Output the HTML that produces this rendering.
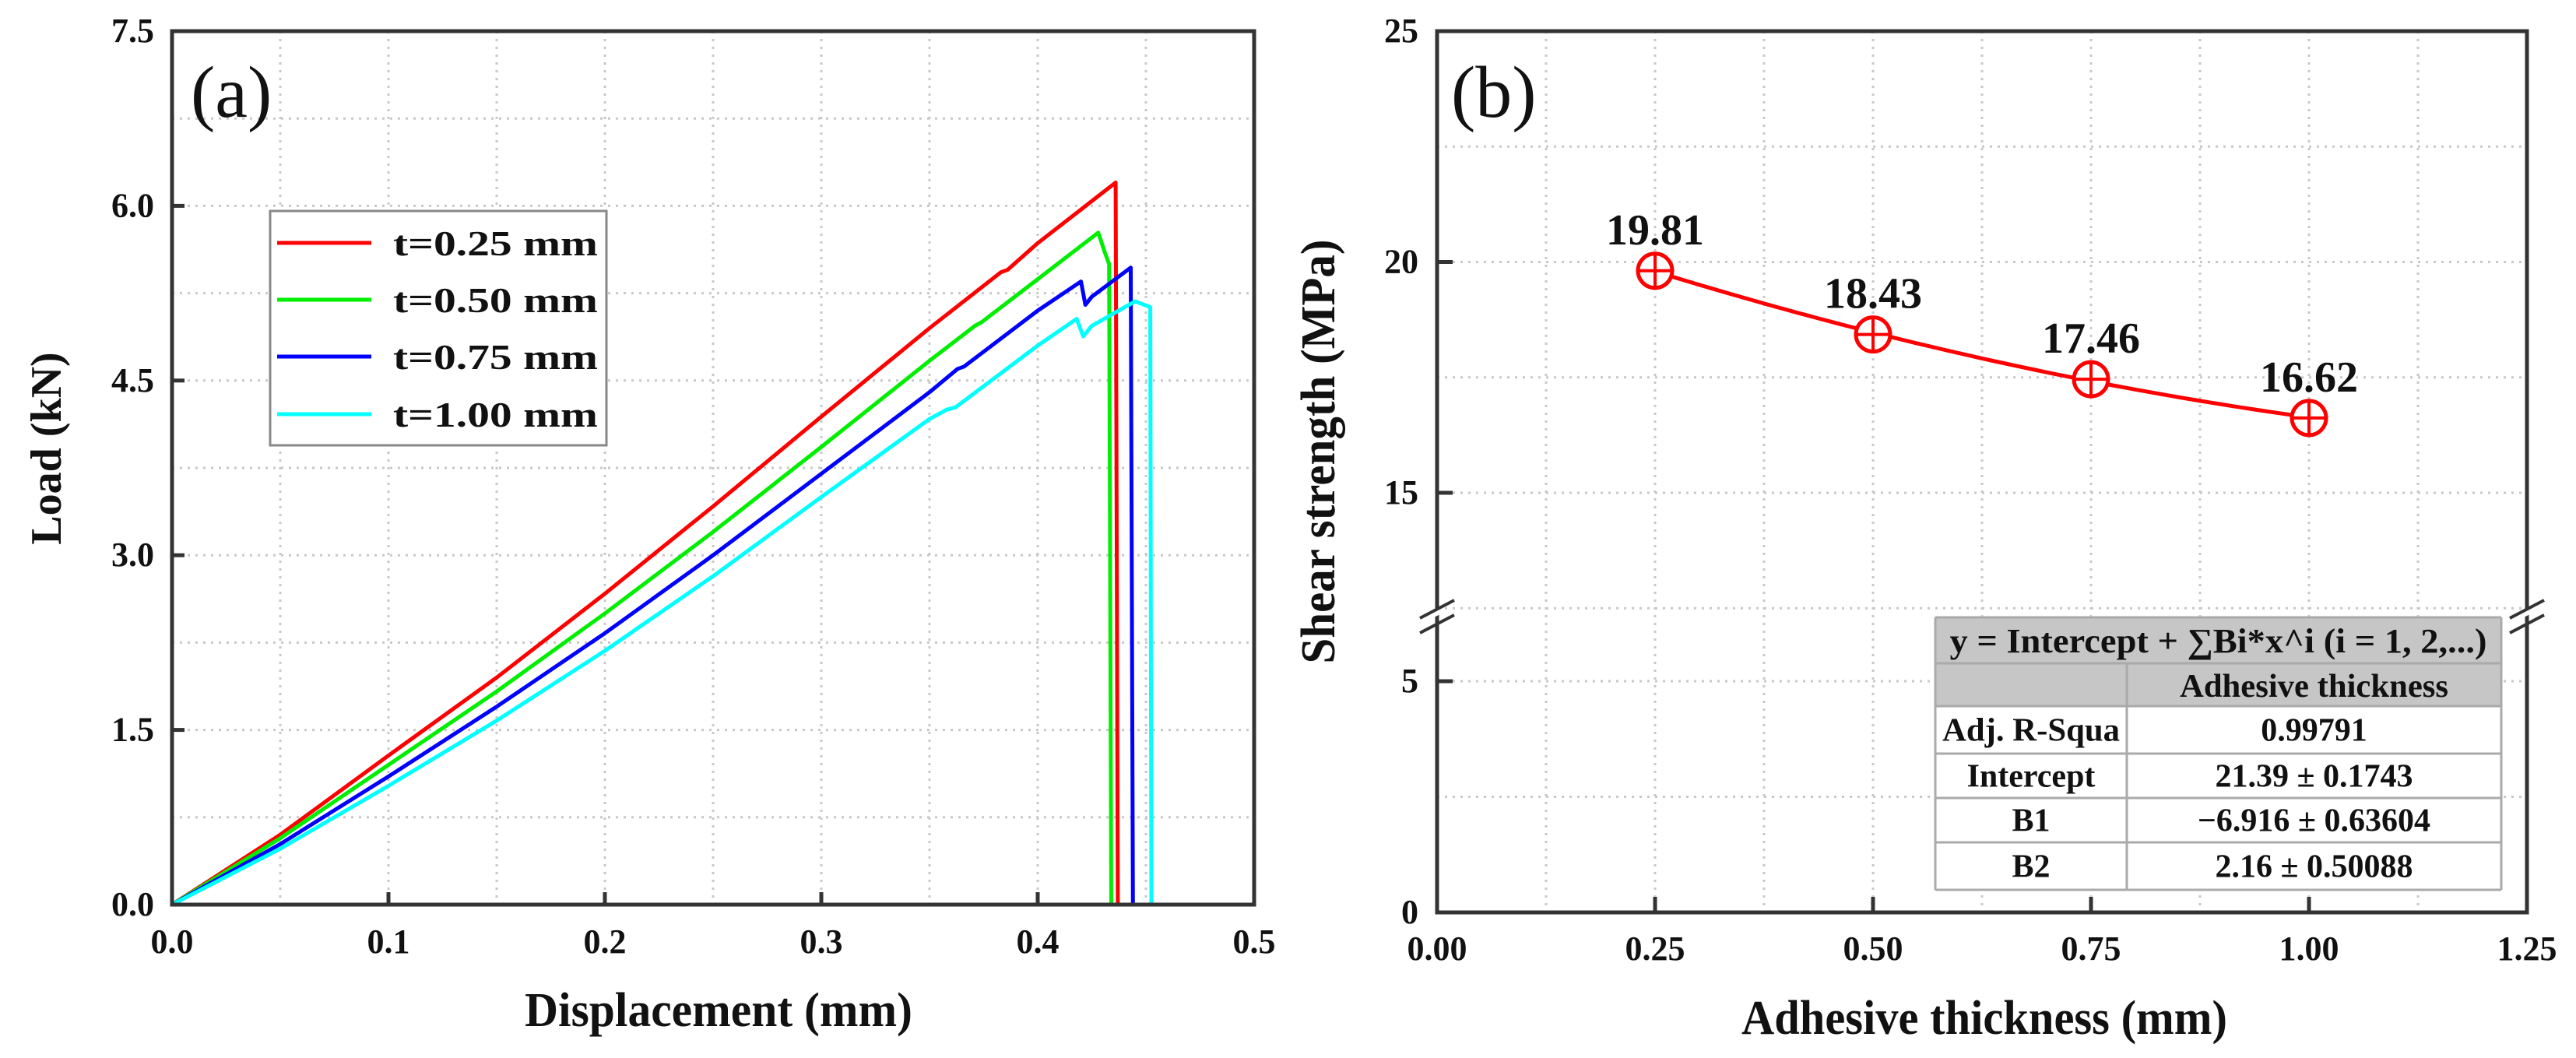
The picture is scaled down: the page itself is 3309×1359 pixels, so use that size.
<!DOCTYPE html>
<html><head><meta charset="utf-8"><style>
html,body{margin:0;padding:0;background:#fff;}
svg{display:block;}
text{font-family:"Liberation Serif",serif;}
</style></head><body>
<svg id="fig" width="3309" height="1359" viewBox="0 0 3309 1359" xmlns="http://www.w3.org/2000/svg">
<g id="pa"></g>
<g id="pb"></g>
</svg>
<script>
// ---------- Panel (a) data ----------
const aXTicks = [0.0, 0.1, 0.2, 0.3, 0.4, 0.5];
const aXTickLabels = ["0.0","0.1","0.2","0.3","0.4","0.5"];
const aYTicks = [0.0, 1.5, 3.0, 4.5, 6.0, 7.5];
const aYTickLabels = ["0.0","1.5","3.0","4.5","6.0","7.5"];
const seriesNames = ["t=0.25 mm","t=0.50 mm","t=0.75 mm","t=1.00 mm"];
const seriesColors = ["#ff0000","#00ee00","#0000ff","#00ffff"];
const redX = [0,0.05,0.1,0.15,0.2,0.25,0.3,0.35,0.383,0.386,0.40,0.436,0.437];
const redY = [0,0.6,1.28,1.95,2.67,3.42,4.19,4.95,5.43,5.45,5.68,6.20,0];
const greenX = [0,0.05,0.1,0.15,0.2,0.25,0.3,0.35,0.371,0.374,0.4,0.428,0.431,0.433,0.434];
const greenY = [0,0.57,1.2,1.83,2.5,3.2,3.93,4.67,4.97,5.0,5.37,5.77,5.6,5.5,0];
const blueX = [0,0.05,0.1,0.15,0.2,0.25,0.3,0.35,0.363,0.366,0.4,0.420,0.422,0.425,0.443,0.444];
const blueY = [0,0.52,1.1,1.7,2.33,3.0,3.7,4.4,4.6,4.62,5.1,5.35,5.15,5.22,5.47,0];
const cyanX = [0,0.05,0.1,0.15,0.2,0.25,0.3,0.35,0.358,0.362,0.4,0.418,0.421,0.425,0.445,0.452,0.4525];
const cyanY = [0,0.48,1.02,1.58,2.18,2.82,3.5,4.17,4.25,4.27,4.8,5.03,4.88,4.97,5.18,5.13,0];

// ---------- Panel (b) data ----------
const bXTicks = [0.0, 0.25, 0.5, 0.75, 1.0, 1.25];
const bXTickLabels = ["0.00","0.25","0.50","0.75","1.00","1.25"];
const bYTicks = [0, 5, 15, 20, 25];
const bYTickLabels = ["0","5","15","20","25"];
const thickness = [0.25, 0.5, 0.75, 1.0];
const strength = [19.81, 18.43, 17.46, 16.62];
const strengthLabels = ["19.81","18.43","17.46","16.62"];
const fitCoef = [21.39, -6.916, 2.16];
const tableRows = [["Adj. R-Squa","0.99791"],["Intercept","21.39 ± 0.1743"],["B1","\u22126.916 ± 0.63604"],["B2","2.16 ± 0.50088"]];

const NS = "http://www.w3.org/2000/svg";
function mk(parent, tag, attrs, txt){
  const e = document.createElementNS(NS, tag);
  for (const k in attrs) e.setAttribute(k, attrs[k]);
  if (txt !== undefined) e.textContent = txt;
  parent.appendChild(e); return e;
}

// ===== Panel A =====
const pa = document.getElementById('pa');
const aL=221,aR=1611,aT=40,aB=1162;
const ax = v => aL + (v-0)/(0.5)*(aR-aL);
const ay = v => aB - v/7.5*(aB-aT);
for (let v=0.05; v<0.5; v+=0.05){
  const l = mk(pa,'line',{x1:ax(v),x2:ax(v),y1:aT,y2:aB,stroke:'#c8c8c8','stroke-width':3,'stroke-dasharray':'3 7'});
  
  
}
for (let v=0.75; v<7.5; v+=0.75){
  const l = mk(pa,'line',{x1:aL,x2:aR,y1:ay(v),y2:ay(v),stroke:'#c8c8c8','stroke-width':3,'stroke-dasharray':'3 7'});
  
  
}
const aSeries = [[redX,redY],[greenX,greenY],[blueX,blueY],[cyanX,cyanY]];
aSeries.forEach((s,i)=>{
  const pts = s[0].map((x,j)=>ax(x).toFixed(1)+','+ay(s[1][j]).toFixed(1)).join(' ');
  const p = mk(pa,'polyline',{points:pts,fill:'none',stroke:seriesColors[i],'stroke-width':5,'stroke-linejoin':'round'});
  
  
});
const fa = mk(pa,'rect',{x:aL,y:aT,width:aR-aL,height:aB-aT,fill:'none',stroke:'#333','stroke-width':5});


aXTicks.forEach((v,i)=>{
  mk(pa,'line',{x1:ax(v),x2:ax(v),y1:aB,y2:aB-16,stroke:'#333','stroke-width':5});
  const t = mk(pa,'text',{x:ax(v),y:1224,'font-size':44,'font-weight':'bold','text-anchor':'middle',fill:'#111'},aXTickLabels[i]);
  
  
});
aYTicks.forEach((v,i)=>{
  mk(pa,'line',{x1:aL,x2:aL+16,y1:ay(v),y2:ay(v),stroke:'#333','stroke-width':5});
  const t = mk(pa,'text',{x:198,y:ay(v)+14,'font-size':44,'font-weight':'bold','text-anchor':'end',fill:'#111'},aYTickLabels[i]);
  
  
});
let t = mk(pa,'text',{x:923,y:1318,'font-size':62,'font-weight':'bold','text-anchor':'middle',fill:'#111',textLength:498,lengthAdjust:'spacingAndGlyphs'},'Displacement (mm)');


t = mk(pa,'text',{x:0,y:0,'font-size':56,'font-weight':'bold','text-anchor':'middle',fill:'#111',transform:'translate(78,576) rotate(-90)'},'Load (kN)');


t = mk(pa,'text',{x:245,y:150,'font-size':94,fill:'#111'},'(a)');


const lg = mk(pa,'g',{});


mk(lg,'rect',{x:347,y:271,width:432,height:301,fill:'#fff',stroke:'#888','stroke-width':3});
const legYs=[312,385,458,532];
seriesNames.forEach((n,i)=>{
  const g = mk(lg,'g',{});
  
  
  mk(g,'line',{x1:356,x2:477,y1:legYs[i],y2:legYs[i],stroke:seriesColors[i],'stroke-width':5});
  mk(g,'text',{x:505,y:legYs[i]+16,'font-size':46,'font-weight':'bold',fill:'#111',textLength:263,lengthAdjust:'spacingAndGlyphs'},n);
});

// ===== Panel B =====
const pb = document.getElementById('pb');
const bL=1846,bR=3246,bT=40,bB=1172,brk=791;
const bx = v => bL + v/1.25*(bR-bL);
const by = v => v >= 12.33 ? (633 - (v-15)*59.3) : (bB - v*59.4);
for (let v=0.125; v<1.25; v+=0.125){
  const l = mk(pb,'line',{x1:bx(v),x2:bx(v),y1:bT,y2:bB,stroke:'#c8c8c8','stroke-width':3,'stroke-dasharray':'3 7'});
  
  
}
[2.5,5,12.5,15,17.5,20,22.5].forEach(v=>{
  const l = mk(pb,'line',{x1:bL,x2:bR,y1:by(v),y2:by(v),stroke:'#c8c8c8','stroke-width':3,'stroke-dasharray':'3 7'});
  
  
});
let fpts=[];
for (let i=0;i<=60;i++){
  const x = thickness[0] + (thickness[thickness.length-1]-thickness[0])*i/60;
  const y = fitCoef[0]+fitCoef[1]*x+fitCoef[2]*x*x;
  fpts.push(bx(x).toFixed(1)+','+by(y).toFixed(1));
}
const fc = mk(pb,'polyline',{points:fpts.join(' '),fill:'none',stroke:'#ff0000','stroke-width':5});


thickness.forEach((x,i)=>{
  const cx=bx(x), cy=by(strength[i]);
  const g = mk(pb,'g',{});
  
  
  mk(g,'circle',{cx:cx,cy:cy,r:22,fill:'#fff',stroke:'#ff0000','stroke-width':5});
  mk(g,'line',{x1:cx-22,x2:cx+22,y1:cy,y2:cy,stroke:'#ff0000','stroke-width':4});
  mk(g,'line',{x1:cx,x2:cx,y1:cy-22,y2:cy+22,stroke:'#ff0000','stroke-width':4});
  const lt = mk(pb,'text',{x:cx,y:cy-34,'font-size':56,'font-weight':'bold','text-anchor':'middle',fill:'#111'},strengthLabels[i]);
  
  
});
const fb = mk(pb,'rect',{x:bL,y:bT,width:bR-bL,height:bB-bT,fill:'none',stroke:'#333','stroke-width':5});


[bL,bR].forEach(xx=>{
  const g = mk(pb,'g',{});
  
  
  mk(g,'polygon',{points:`${xx-8},${brk+4} ${xx+8},${brk-4} ${xx+8},${brk-14} ${xx-8},${brk-6}`,fill:'#fff'});
  mk(g,'line',{x1:xx-22,y1:brk+3,x2:xx+22,y2:brk-20,stroke:'#333','stroke-width':4});
  mk(g,'line',{x1:xx-22,y1:brk+22,x2:xx+22,y2:brk-1,stroke:'#333','stroke-width':4});
});
bXTicks.forEach((v,i)=>{
  mk(pb,'line',{x1:bx(v),x2:bx(v),y1:bB,y2:bB-20,stroke:'#333','stroke-width':5});
  const tt = mk(pb,'text',{x:bx(v),y:1233,'font-size':44,'font-weight':'bold','text-anchor':'middle',fill:'#111'},bXTickLabels[i]);
  
  
});
bYTicks.forEach((v,i)=>{
  mk(pb,'line',{x1:bL,x2:bL+20,y1:by(v),y2:by(v),stroke:'#333','stroke-width':5});
  const tt = mk(pb,'text',{x:1822,y:by(v)+14,'font-size':44,'font-weight':'bold','text-anchor':'end',fill:'#111'},bYTickLabels[i]);
  
  
});
t = mk(pb,'text',{x:2549,y:1328,'font-size':62,'font-weight':'bold','text-anchor':'middle',fill:'#111',textLength:624,lengthAdjust:'spacingAndGlyphs'},'Adhesive thickness (mm)');


t = mk(pb,'text',{x:0,y:0,'font-size':62,'font-weight':'bold','text-anchor':'middle',fill:'#111',textLength:545,lengthAdjust:'spacingAndGlyphs',transform:'translate(1714,580) rotate(-90)'},'Shear strength (MPa)');


t = mk(pb,'text',{x:1864,y:150,'font-size':94,fill:'#111'},'(b)');


const tb = mk(pb,'g',{});


const tL=2486,tR=3213,tC=2732;
const rowEdges=[793,852,907,968,1025,1082,1143];
mk(tb,'rect',{x:tL,y:793,width:tR-tL,height:907-793,fill:'#c6c6c6'});
mk(tb,'rect',{x:tL,y:907,width:tR-tL,height:1143-907,fill:'#fff'});
rowEdges.forEach(y=>mk(tb,'line',{x1:tL,x2:tR,y1:y,y2:y,stroke:'#aaa','stroke-width':3}));
mk(tb,'line',{x1:tL,x2:tL,y1:793,y2:1143,stroke:'#aaa','stroke-width':3});
mk(tb,'line',{x1:tR,x2:tR,y1:793,y2:1143,stroke:'#aaa','stroke-width':3});
mk(tb,'line',{x1:tC,x2:tC,y1:852,y2:1143,stroke:'#aaa','stroke-width':3});
mk(tb,'text',{x:(tL+tR)/2,y:838,'font-size':44,'font-weight':'bold','text-anchor':'middle',fill:'#111',textLength:690,lengthAdjust:'spacingAndGlyphs'},'y = Intercept + \u2211Bi*x^i (i = 1, 2,...)');
mk(tb,'text',{x:(tC+tR)/2,y:895,'font-size':42,'font-weight':'bold','text-anchor':'middle',fill:'#111',textLength:345,lengthAdjust:'spacingAndGlyphs'},'Adhesive thickness');
tableRows.forEach((r,i)=>{
  const y = (rowEdges[i+2]+rowEdges[i+3])/2+14;
  const a = {x:(tL+tC)/2,y:y,'font-size':42,'font-weight':'bold','text-anchor':'middle',fill:'#111'};
  if (i===0){a.textLength=228;a.lengthAdjust='spacingAndGlyphs';}
  mk(tb,'text',a,r[0]);
  mk(tb,'text',{x:(tC+tR)/2,y:y,'font-size':42,'font-weight':'bold','text-anchor':'middle',fill:'#111'},r[1]);
});
</script>
</body></html>
